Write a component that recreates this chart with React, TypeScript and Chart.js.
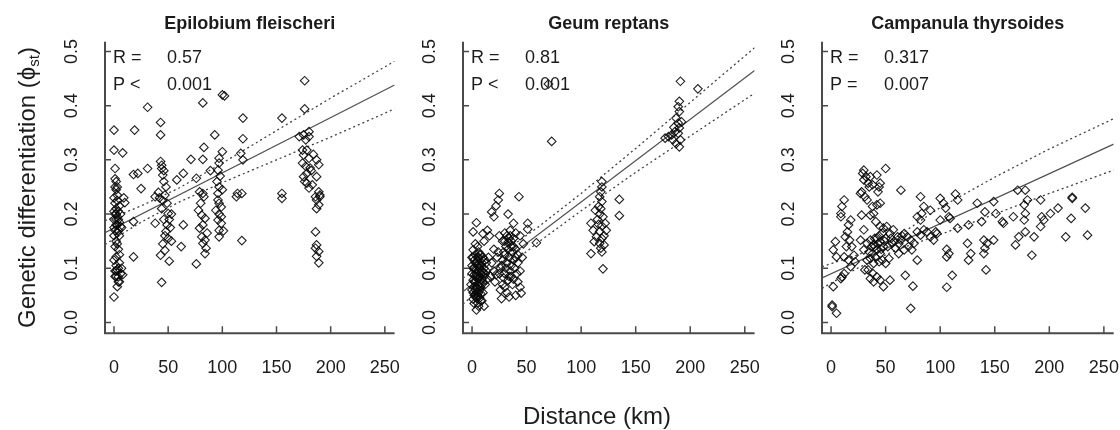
import React, { useEffect, useRef } from "react";
import { Chart, registerables } from "chart.js";
Chart.register(...registerables);

// ---------- axis ticks ----------
const X_TICKS = [0, 50, 100, 150, 200, 250];
const X_TICK_LABELS = ["0", "50", "100", "150", "200", "250"];
const Y_TICKS = [0.0, 0.1, 0.2, 0.3, 0.4, 0.5];
const Y_TICK_LABELS = ["0.0", "0.1", "0.2", "0.3", "0.4", "0.5"];
const X_RANGE = [-8.3, 259];
const Y_RANGE = [-0.02, 0.518];

const PANEL_TITLES = ["Epilobium fleischeri", "Geum reptans", "Campanula thyrsoides"];
const R_VALUES = ["0.57", "0.81", "0.317"];
const P_SIGNS = ["<", "<", "="];
const P_VALUES = ["0.001", "0.001", "0.007"];
const Y_TITLE_MAIN = "Genetic differentiation (";
const Y_TITLE_SYMBOL = "\u03d5";
const Y_TITLE_SUB = "st";
const Y_TITLE_END = ")";
const X_TITLE = "Distance (km)";

// ---------- Epilobium fleischeri: [distance km, phi_st] ----------
const EPI_POINTS = [
  [0,0.355],[0,0.318],[8,0.313],[1,0.284],[2,0.26],[1,0.25],[2,0.245],[3,0.235],[0,0.23],[10,0.221],
  [2,0.21],[4,0.205],[1,0.2],[3,0.195],[0,0.19],[5,0.185],[2,0.18],[7,0.175],[1,0.17],[3,0.165],
  [6,0.177],[0,0.16],[2,0.15],[1,0.14],[4,0.135],[2,0.121],[0,0.115],[5,0.11],[3,0.097],[1,0.095],
  [6,0.09],[2,0.085],[4,0.084],[8,0.088],[3,0.066],[0,0.047],[9,0.23],[5,0.215],[3,0.225],[6,0.2],
  [4,0.17],[3,0.145],[5,0.125],[2,0.105],[4,0.075],[7,0.1],[2,0.19],[0,0.205],[1,0.265],[3,0.25],
  [1,0.22],[3,0.18],[2,0.2],[4,0.19],[0,0.175],[5,0.16],[2,0.095],[1,0.085],[5,0.075],[4,0.1],
  [19,0.355],[31,0.397],[18,0.273],[22,0.275],[31,0.284],[25,0.247],[18,0.121],[18,0.186],
  [43,0.369],[43,0.346],[43,0.297],[44,0.284],[45,0.272],[46,0.26],[48,0.25],[47,0.235],[38,0.232],[42,0.23],
  [45,0.225],[44,0.21],[50,0.201],[53,0.2],[46,0.19],[49,0.18],[52,0.175],[38,0.183],[47,0.16],[50,0.155],
  [53,0.15],[47,0.133],[43,0.124],[51,0.113],[44,0.074],[41,0.24],[44,0.29],[46,0.28],[49,0.22],[51,0.19],
  [48,0.168],[45,0.145],
  [64,0.275],[58,0.263],[64,0.18],[62,0.14],[71,0.301],[83,0.323],[82,0.301],[82,0.405],[76,0.266],
  [79,0.241],[82,0.238],[83,0.232],[78,0.207],[81,0.198],[84,0.192],[82,0.18],[79,0.174],[81,0.158],[84,0.152],
  [82,0.146],[85,0.137],[84,0.127],[76,0.108],[80,0.22],[86,0.165],[93,0.346],[89,0.28],
  [100,0.42],[102,0.418],[100,0.315],[97,0.303],[97,0.294],[96,0.281],[98,0.27],[97,0.25],[96,0.238],[96,0.226],
  [97,0.22],[99,0.213],[94,0.207],[97,0.2],[96,0.189],[99,0.183],[97,0.17],[101,0.169],[97,0.158],[95,0.26],
  [100,0.245],[99,0.195],
  [119,0.377],[119,0.339],[117,0.312],[119,0.3],[114,0.238],[118,0.238],[113,0.232],[118,0.151],
  [155,0.377],[155,0.238],[155,0.229],[176,0.446],[176,0.394],
  [171,0.343],[175,0.346],[180,0.352],[180,0.343],[177,0.337],[174,0.318],[178,0.318],[175,0.309],[180,0.303],[174,0.294],
  [177,0.288],[181,0.285],[187,0.3],[189,0.291],[178,0.275],[175,0.269],[187,0.269],[178,0.257],[183,0.254],[180,0.248],
  [189,0.241],[190,0.235],[186,0.232],[187,0.226],[189,0.217],[187,0.21],[190,0.232],[186,0.167],[187,0.143],[186,0.137],
  [189,0.131],[187,0.122],[189,0.11],[182,0.28],[184,0.31],[176,0.26],
];
const EPI_FIT_X = [-8.3, 259];
const EPI_FIT_Y = [0.1655, 0.438];
const EPI_BAND_X = [-8.3, 25, 60, 100, 150, 200, 259];
const EPI_UPPER = [0.188, 0.215, 0.248, 0.294, 0.354, 0.414, 0.482];
const EPI_LOWER = [0.144, 0.185, 0.222, 0.258, 0.300, 0.342, 0.394];

// ---------- Geum reptans ----------
const GEUM_POINTS = [
  [4,0.184],[1,0.167],[5,0.14],[1,0.134],[3,0.125],[6,0.12],[2,0.115],[4,0.11],[7,0.105],[1,0.1],
  [3,0.098],[5,0.095],[8,0.09],[2,0.088],[4,0.085],[6,0.082],[1,0.078],[3,0.075],[7,0.072],[9,0.07],
  [2,0.066],[5,0.063],[0,0.06],[4,0.056],[8,0.053],[3,0.05],[6,0.047],[1,0.043],[9,0.04],[5,0.036],
  [4,0.023],[11,0.03],[12,0.115],[13,0.095],[14,0.08],[10,0.164],[11,0.15],[6,0.13],[8,0.125],[10,0.12],
  [9,0.11],[7,0.1],[10,0.092],[11,0.085],[12,0.07],[7,0.06],[10,0.055],[8,0.04],[6,0.03],[2,0.035],
  [3,0.145],[0,0.12],[0,0.09],[-1,0.07],[2,0.1],[5,0.105],[4,0.09],[6,0.068],[9,0.08],[3,0.06],
  [5,0.05],[7,0.045],[11,0.1],[13,0.11],
  [1,0.12],[3,0.11],[5,0.08],[7,0.085],[2,0.075],[4,0.065],[6,0.055],[8,0.065],[1,0.055],[3,0.085],
  [5,0.12],[9,0.095],[0,0.105],[6,0.11],[8,0.105],[4,0.045],[2,0.05],[10,0.075],[12,0.09],[7,0.125],
  [22,0.215],[24,0.226],[25,0.238],[18,0.204],[20,0.195],[43,0.232],[33,0.2],[59,0.147],[51,0.183],[51,0.172],
  [38,0.183],[25,0.16],[30,0.165],[35,0.17],[38,0.155],[28,0.15],[33,0.148],[36,0.14],[40,0.135],[24,0.13],
  [30,0.125],[34,0.12],[38,0.115],[42,0.11],[27,0.105],[31,0.1],[35,0.095],[41,0.09],[22,0.088],[29,0.082],
  [33,0.078],[37,0.07],[44,0.065],[26,0.06],[32,0.055],[40,0.05],[34,0.047],[27,0.044],[45,0.054],[15,0.12],
  [18,0.11],[20,0.095],[17,0.085],[32,0.16],[34,0.155],[36,0.15],[31,0.14],[29,0.13],[37,0.13],[42,0.125],
  [46,0.12],[23,0.12],[26,0.1],[39,0.1],[44,0.095],[21,0.075],[28,0.07],[36,0.085],[30,0.065],[47,0.145],
  [20,0.135],[16,0.16],[14,0.17],[44,0.16],[40,0.165],
  [30,0.15],[35,0.16],[33,0.135],[38,0.14],[28,0.115],[32,0.11],[36,0.105],[40,0.12],[25,0.09],[34,0.085],
  [38,0.08],[42,0.075],[30,0.09],
  [73,0.334],[70,0.44],
  [119,0.26],[119,0.25],[118,0.241],[117,0.232],[119,0.223],[116,0.214],[113,0.207],[117,0.2],[120,0.195],[109,0.183],
  [116,0.181],[119,0.178],[122,0.183],[111,0.17],[117,0.168],[123,0.17],[114,0.158],[119,0.155],[112,0.149],[117,0.146],
  [121,0.143],[109,0.127],[119,0.13],[120,0.099],[118,0.21],[115,0.19],[121,0.16],[118,0.137],
  [135,0.227],[135,0.197],
  [191,0.445],[207,0.431],[190,0.408],[189,0.398],[190,0.389],[187,0.377],[189,0.368],[190,0.359],[186,0.352],[189,0.349],
  [183,0.346],[180,0.343],[177,0.34],[184,0.337],[191,0.337],[190,0.324],[187,0.33],[185,0.36],[192,0.37],
];
const GEUM_FIT_X = [-8.3, 259];
const GEUM_FIT_Y = [0.057, 0.465];
const GEUM_BAND_X = [-8.3, 25, 60, 100, 150, 200, 259];
const GEUM_UPPER = [0.082, 0.125, 0.175, 0.238, 0.321, 0.406, 0.507];
const GEUM_LOWER = [0.034, 0.091, 0.147, 0.206, 0.277, 0.344, 0.423];

// ---------- Campanula thyrsoides ----------
const CAMP_POINTS = [
  [1,0.032],[1,0.029],[5,0.017],[2,0.066],[2,0.134],[4,0.149],[5,0.121],[9,0.081],[10,0.084],[12,0.09],
  [9,0.201],[9,0.195],[10,0.214],[12,0.226],[13,0.158],[15,0.167],[16,0.18],[17,0.152],[18,0.189],[12,0.121],
  [16,0.115],[18,0.103],[14,0.14],[19,0.14],[21,0.124],[22,0.112],
  [28,0.241],[27,0.238],[29,0.275],[30,0.281],[32,0.269],[34,0.257],[30,0.263],[36,0.269],[38,0.254],[35,0.25],
  [44,0.25],[43,0.241],[45,0.257],[50,0.284],[42,0.272],[33,0.226],[31,0.232],[38,0.214],[39,0.201],[42,0.217],
  [45,0.22],[36,0.198],[41,0.186],[45,0.177],[48,0.174],[28,0.198],[30,0.171],[27,0.152],[30,0.134],[33,0.146],
  [36,0.152],[39,0.143],[42,0.155],[45,0.149],[48,0.14],[38,0.127],[42,0.134],[45,0.127],[36,0.118],[33,0.115],
  [39,0.109],[44,0.112],[47,0.115],[50,0.109],[53,0.118],[38,0.091],[36,0.081],[39,0.075],[42,0.084],[45,0.078],
  [48,0.066],[54,0.078],[34,0.097],[31,0.097],
  [40,0.14],[43,0.145],[46,0.135],[49,0.15],[52,0.14],[55,0.155],[58,0.15],[62,0.145],[65,0.16],[44,0.16],
  [47,0.165],[50,0.155],[37,0.14],[40,0.155],[35,0.13],[41,0.12],
  [51,0.177],[54,0.164],[57,0.171],[61,0.158],[64,0.152],[67,0.164],[70,0.158],[73,0.152],[76,0.146],[79,0.167],
  [82,0.161],[85,0.171],[88,0.167],[91,0.158],[94,0.152],[97,0.164],[56,0.146],[59,0.137],[62,0.127],[67,0.134],
  [71,0.14],[74,0.134],[79,0.115],[68,0.087],[75,0.067],[73,0.026],[64,0.244],[82,0.232],[83,0.201],[85,0.214],
  [82,0.189],[79,0.195],[91,0.207],[96,0.167],[100,0.229],[103,0.22],[105,0.211],[108,0.195],[100,0.189],[109,0.192],
  [106,0.135],[108,0.127],[106,0.121],[111,0.087],[106,0.065],[114,0.237],[116,0.226],[116,0.174],[126,0.18],[125,0.146],
  [126,0.115],[128,0.127],[134,0.22],[141,0.204],[138,0.186],[140,0.152],[143,0.146],[141,0.137],[140,0.127],[142,0.097],
  [149,0.223],[149,0.152],[151,0.201],[157,0.186],[158,0.183],[167,0.195],[169,0.143],[171,0.244],[172,0.158],[177,0.217],
  [178,0.244],[180,0.226],[178,0.201],[177,0.189],[178,0.167],[184,0.124],[186,0.158],[192,0.226],[193,0.195],[195,0.189],
  [192,0.177],[201,0.201],[208,0.211],[215,0.158],[221,0.229],[220,0.192],[233,0.211],[235,0.161],[221,0.231],
];
const CAMP_FIT_X = [-8.3, 259];
const CAMP_FIT_Y = [0.082, 0.329];
const CAMP_BAND_X = [-8.3, 25, 60, 100, 150, 200, 259];
const CAMP_UPPER = [0.103, 0.125, 0.158, 0.212, 0.268, 0.320, 0.376];
const CAMP_LOWER = [0.063, 0.101, 0.134, 0.162, 0.200, 0.238, 0.281];

// ---------- layout (positions/sizes only) ----------
const LAYOUT = [
  { left: 0, width: 400, pad: { left: 105, right: 3.3, top: 41.7, bottom: 96.7 }, yTitle: true, xTitle: false },
  { left: 400, width: 360, pad: { left: 63, right: 5.3, top: 41.7, bottom: 96.7 }, yTitle: false, xTitle: true },
  { left: 760, width: 360, pad: { left: 62, right: 6.3, top: 41.7, bottom: 96.7 }, yTitle: false, xTitle: false },
];
const HEIGHT = 430;
const FONT = '"Liberation Sans", Arial, "DejaVu Sans", sans-serif';
const INK = "#1c1c1c";

const PANEL_DATA = [
  { points: EPI_POINTS, fitX: EPI_FIT_X, fitY: EPI_FIT_Y, bandX: EPI_BAND_X, upper: EPI_UPPER, lower: EPI_LOWER },
  { points: GEUM_POINTS, fitX: GEUM_FIT_X, fitY: GEUM_FIT_Y, bandX: GEUM_BAND_X, upper: GEUM_UPPER, lower: GEUM_LOWER },
  { points: CAMP_POINTS, fitX: CAMP_FIT_X, fitY: CAMP_FIT_Y, bandX: CAMP_BAND_X, upper: CAMP_UPPER, lower: CAMP_LOWER },
];

function Panel({ index }: { index: number }) {
  const ref = useRef<HTMLCanvasElement | null>(null);
  const lay = LAYOUT[index];

  useEffect(() => {
    const canvas = ref.current;
    if (!canvas) return;
    const d = PANEL_DATA[index];
    const zip = (xs: number[], ys: number[]) => xs.map((x, i) => ({ x, y: ys[i] }));

    const decor = {
      id: "decor" + index,
      afterDraw(chart: any) {
        const { ctx, chartArea: a, scales } = chart;
        const xs = scales.x;
        const ys = scales.y;
        ctx.save();
        // axes
        ctx.strokeStyle = "#4a4a4a";
        ctx.lineWidth = 2;
        ctx.beginPath();
        ctx.moveTo(a.left, a.top);
        ctx.lineTo(a.left, a.bottom);
        ctx.lineTo(a.right, a.bottom);
        ctx.stroke();
        ctx.lineWidth = 1.5;
        ctx.beginPath();
        X_TICKS.forEach((t) => {
          const px = xs.getPixelForValue(t);
          ctx.moveTo(px, a.bottom);
          ctx.lineTo(px, a.bottom - 7);
        });
        Y_TICKS.forEach((t) => {
          const py = ys.getPixelForValue(t);
          ctx.moveTo(a.left, py);
          ctx.lineTo(a.left + 6, py);
        });
        ctx.stroke();

        ctx.fillStyle = INK;
        // x tick labels
        ctx.font = `18px ${FONT}`;
        ctx.textAlign = "center";
        ctx.textBaseline = "middle";
        X_TICKS.forEach((t, i) => {
          ctx.fillText(X_TICK_LABELS[i], xs.getPixelForValue(t), 368);
        });
        // y tick labels (rotated)
        Y_TICKS.forEach((t, i) => {
          ctx.save();
          ctx.translate(a.left - 33, ys.getPixelForValue(t));
          ctx.rotate(-Math.PI / 2);
          ctx.fillText(Y_TICK_LABELS[i], 0, 0);
          ctx.restore();
        });
        // title
        ctx.font = `bold 18px ${FONT}`;
        ctx.textBaseline = "alphabetic";
        ctx.fillText(PANEL_TITLES[index], (a.left + a.right) / 2, 29);
        // R / P annotation
        ctx.font = `18px ${FONT}`;
        ctx.textAlign = "left";
        ctx.fillText("R =", a.left + 8, 63);
        ctx.fillText(R_VALUES[index], a.left + 62, 63);
        ctx.fillText("P " + P_SIGNS[index], a.left + 8, 90);
        ctx.fillText(P_VALUES[index], a.left + 62, 90);

        if (lay.yTitle) {
          ctx.save();
          const cy = (a.top + a.bottom) / 2;
          ctx.translate(35, cy);
          ctx.rotate(-Math.PI / 2);
          ctx.font = `24px ${FONT}`;
          const w1 = ctx.measureText(Y_TITLE_MAIN).width;
          const w2 = ctx.measureText(Y_TITLE_SYMBOL).width;
          const w4 = ctx.measureText(Y_TITLE_END).width;
          ctx.font = `15px ${FONT}`;
          const w3 = ctx.measureText(Y_TITLE_SUB).width;
          const total = w1 + w2 + w3 + w4;
          let x0 = -total / 2;
          ctx.textAlign = "left";
          ctx.font = `24px ${FONT}`;
          ctx.fillText(Y_TITLE_MAIN, x0, 0);
          x0 += w1;
          ctx.fillText(Y_TITLE_SYMBOL, x0, 0);
          x0 += w2;
          ctx.font = `15px ${FONT}`;
          ctx.fillText(Y_TITLE_SUB, x0, 4);
          x0 += w3;
          ctx.font = `24px ${FONT}`;
          ctx.fillText(Y_TITLE_END, x0, 0);
          ctx.restore();
        }
        if (lay.xTitle) {
          ctx.font = `24px ${FONT}`;
          ctx.textAlign = "center";
          ctx.fillText(X_TITLE, 597 - lay.left, 424);
        }
        ctx.restore();
      },
    };

    const chart = new Chart(canvas, {
      type: "scatter",
      data: {
        datasets: [
          {
            data: d.points.map(([x, y]) => ({ x, y })),
            pointStyle: "rectRot",
            pointRadius: 4.3,
            pointBorderWidth: 1.1,
            borderColor: "rgba(10,10,10,0.9)",
            backgroundColor: "rgba(0,0,0,0)",
            showLine: false,
          } as any,
          {
            data: zip(d.fitX, d.fitY),
            showLine: true,
            pointRadius: 0,
            borderColor: "#505050",
            borderWidth: 1.2,
            fill: false,
          } as any,
          {
            data: zip(d.bandX, d.upper),
            showLine: true,
            pointRadius: 0,
            borderColor: "#404040",
            borderWidth: 1.3,
            borderDash: [2, 3],
            fill: false,
          } as any,
          {
            data: zip(d.bandX, d.lower),
            showLine: true,
            pointRadius: 0,
            borderColor: "#404040",
            borderWidth: 1.3,
            borderDash: [2, 3],
            fill: false,
          } as any,
        ],
      },
      options: {
        animation: false,
        responsive: false,
        devicePixelRatio: 1,
        layout: { padding: lay.pad },
        plugins: { legend: { display: false }, tooltip: { enabled: false }, title: { display: false } },
        events: [],
        scales: {
          x: { type: "linear", min: X_RANGE[0], max: X_RANGE[1], display: false },
          y: { type: "linear", min: Y_RANGE[0], max: Y_RANGE[1], display: false },
        },
      } as any,
      plugins: [decor],
    });
    return () => chart.destroy();
  }, [index]);

  return (
    <canvas
      ref={ref}
      width={lay.width}
      height={HEIGHT}
      style={{ position: "absolute", left: lay.left, top: 0, width: lay.width, height: HEIGHT }}
    />
  );
}

export default function App() {
  return (
    <div style={{ position: "absolute", left: 0, top: 0, width: 1120, height: HEIGHT, background: "#fff", overflow: "hidden" }}>
      <Panel index={0} />
      <Panel index={1} />
      <Panel index={2} />
    </div>
  );
}
